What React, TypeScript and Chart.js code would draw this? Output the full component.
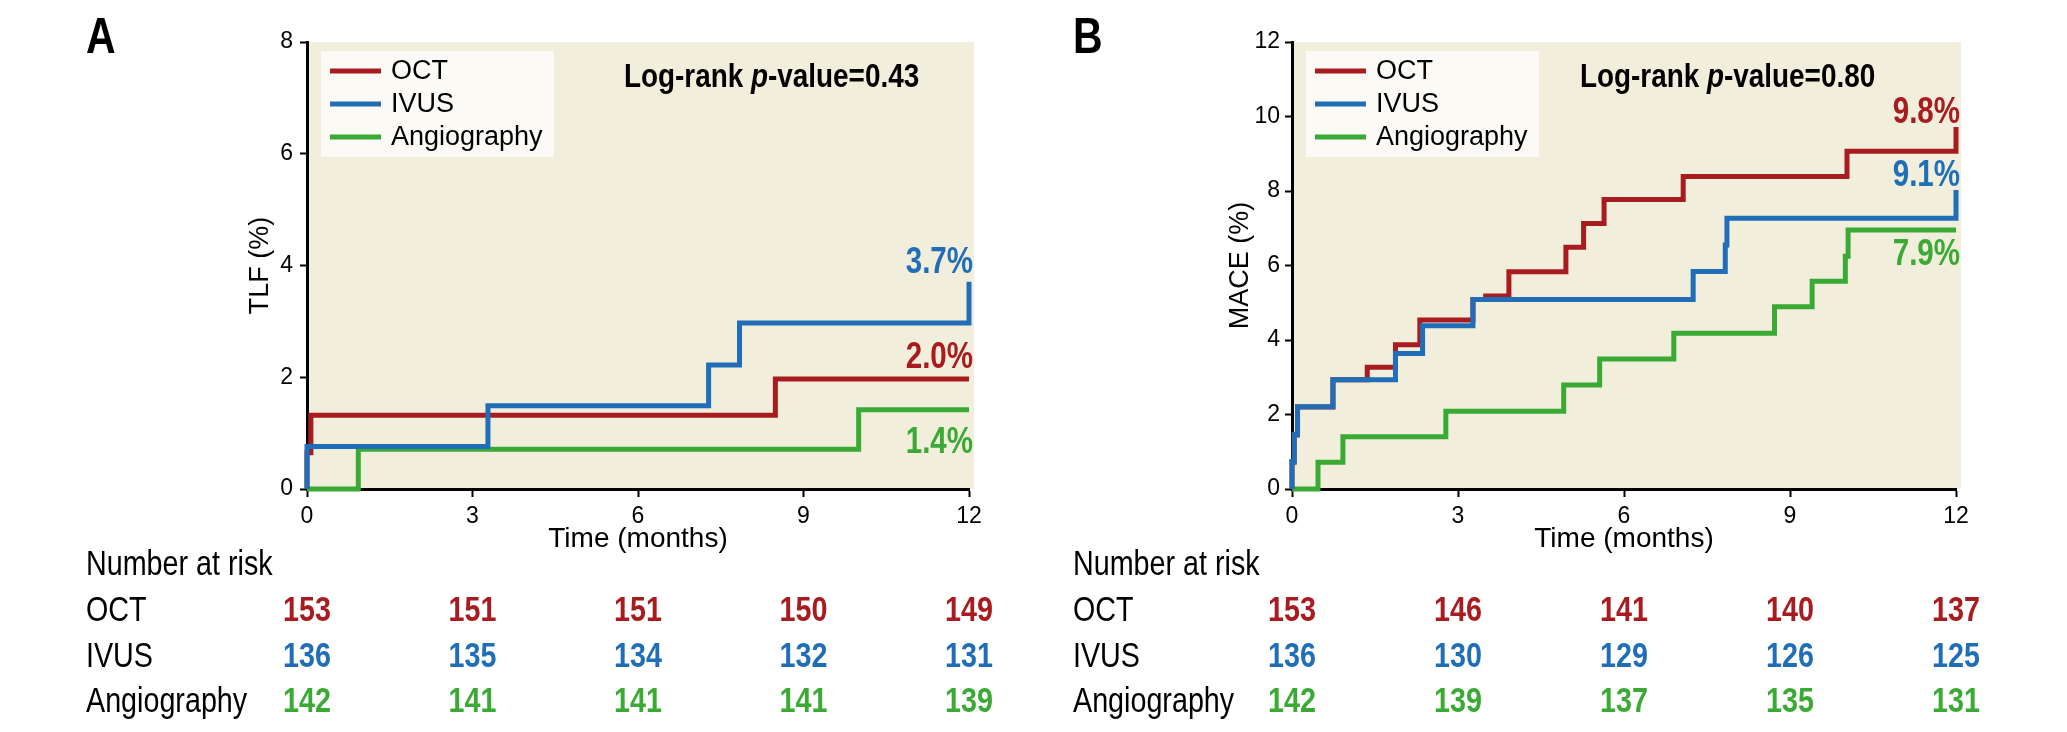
import React, { useEffect, useRef } from 'react';
import { Chart, registerables } from 'chart.js';

Chart.register(...registerables);

const RED = '#A81C20';
const BLUE = '#1F6EB7';
const GREEN = '#3AAA35';
const PLOT_BG = '#F2EEDC';
const LEGEND_BG = '#FBFAF5';
const REG = '"Liberation Sans", Arial, sans-serif';
const NARROW = 0.82; // horizontal squeeze to mimic a condensed face

const seriesNames = ['OCT', 'IVUS', 'Angiography'];
const seriesColors = [RED, BLUE, GREEN];
const timeTicks = [0, 3, 6, 9, 12];
const riskTitle = 'Number at risk';
const xTitle = 'Time (months)';

// ---- Panel A: TLF ----
const tlfOctTime = [0, 0, 0.07, 8.49, 12];
const tlfOctValue = [0, 0.65, 1.32, 1.97, 1.97];
const tlfIvusTime = [0, 0, 3.28, 7.28, 7.84, 12];
const tlfIvusValue = [0, 0.76, 1.49, 2.22, 2.97, 3.71];
const tlfAngioTime = [0, 0.93, 10.0, 12];
const tlfAngioValue = [0, 0.71, 1.42, 1.42];
const tlfEndLabels = ['2.0%', '3.7%', '1.4%'];
const tlfPValue = '0.43';
const tlfRiskOct = [153, 151, 151, 150, 149];
const tlfRiskIvus = [136, 135, 134, 132, 131];
const tlfRiskAngio = [142, 141, 141, 141, 139];

// ---- Panel B: MACE ----
const maceOctTime = [0, 0, 0.04, 0.1, 0.74, 1.36, 1.87, 2.31, 3.27, 3.5, 3.92, 4.95, 5.27, 5.64, 7.07, 10.03, 12];
const maceOctValue = [0, 0.72, 1.45, 2.2, 2.93, 3.27, 3.87, 4.54, 5.09, 5.18, 5.83, 6.49, 7.13, 7.77, 8.39, 9.07, 9.72];
const maceIvusTime = [0, 0, 0.04, 0.1, 0.74, 1.87, 2.36, 3.27, 7.25, 7.83, 7.86, 12];
const maceIvusValue = [0, 0.74, 1.47, 2.21, 2.93, 3.64, 4.38, 5.09, 5.84, 6.55, 7.27, 8.03];
const maceAngioTime = [0, 0.47, 0.92, 2.78, 4.91, 5.56, 6.9, 8.72, 9.4, 10.0, 10.05, 12];
const maceAngioValue = [0, 0.72, 1.4, 2.09, 2.79, 3.49, 4.18, 4.89, 5.58, 6.25, 6.95, 6.95];
const maceEndLabels = ['9.8%', '9.1%', '7.9%'];
const macePValue = '0.80';
const maceRiskOct = [153, 146, 141, 140, 137];
const maceRiskIvus = [136, 130, 129, 126, 125];
const maceRiskAngio = [142, 139, 137, 135, 131];

type Panel = {
  letter: string;
  yTitle: string;
  yMax: number;
  series: number[][][];
  endLabels: string[];
  pValue: string;
  risk: number[][];
  canvasWidth: number;
  plotLeft: number;
  plotRight: number;
  yTitlePad: number;
  yTickPad: number;
  textLeft: number;
  logRankX: number;
  labelDy: number[];
};

const panels: Panel[] = [
  {
    letter: 'A',
    yTitle: 'TLF (%)',
    yMax: 8,
    series: [
      [tlfOctTime, tlfOctValue],
      [tlfIvusTime, tlfIvusValue],
      [tlfAngioTime, tlfAngioValue],
    ],
    endLabels: tlfEndLabels,
    pValue: tlfPValue,
    risk: [tlfRiskOct, tlfRiskIvus, tlfRiskAngio],
    canvasWidth: 1030,
    plotLeft: 307,
    plotRight: 969,
    yTitlePad: 244,
    yTickPad: 7,
    textLeft: 86,
    logRankX: 317,
    labelDy: [-11, -9, 43],
  },
  {
    letter: 'B',
    yTitle: 'MACE (%)',
    yMax: 12,
    series: [
      [maceOctTime, maceOctValue],
      [maceIvusTime, maceIvusValue],
      [maceAngioTime, maceAngioValue],
    ],
    endLabels: maceEndLabels,
    pValue: macePValue,
    risk: [maceRiskOct, maceRiskIvus, maceRiskAngio],
    canvasWidth: 1037,
    plotLeft: 262,
    plotRight: 926,
    yTitlePad: 194,
    yTickPad: 5,
    textLeft: 43,
    logRankX: 288,
    labelDy: [-4, -4, 35],
  },
];

const CANVAS_H = 732;
const PLOT_TOP = 42;
const PLOT_BOTTOM = 489;
const riskBaselines = [575, 621, 667, 712];
const legendRows = [29, 62, 95];

// draw text squeezed horizontally; returns drawn width
function condText(ctx: CanvasRenderingContext2D, text: string, x: number, y: number, font: string, align: 'left' | 'center' | 'right') {
  ctx.save();
  ctx.font = font;
  ctx.textAlign = 'left';
  ctx.textBaseline = 'alphabetic';
  const w = ctx.measureText(text).width * NARROW;
  const left = align === 'left' ? x : align === 'center' ? x - w / 2 : x - w;
  ctx.translate(left, y);
  ctx.scale(NARROW, 1);
  ctx.fillText(text, 0, 0);
  ctx.restore();
  return w;
}

function makePlugin(p: Panel) {
  return {
    id: 'km' + p.letter,
    beforeDraw(chart: any) {
      const { ctx, chartArea: a } = chart;
      ctx.save();
      ctx.fillStyle = '#ffffff';
      ctx.fillRect(0, 0, chart.width, chart.height);
      ctx.fillStyle = PLOT_BG;
      ctx.fillRect(a.left, a.top, a.right - a.left + 5, a.bottom - a.top);
      ctx.restore();
    },
    beforeDatasetsDraw(chart: any) {
      const { ctx, chartArea: a } = chart;
      ctx.save();
      ctx.fillStyle = LEGEND_BG;
      ctx.fillRect(a.left + 14, a.top + 9, 233, 106);
      ctx.font = `27px ${REG}`;
      ctx.textBaseline = 'middle';
      ctx.textAlign = 'left';
      chart.data.datasets.forEach((ds: any, i: number) => {
        const y = a.top + legendRows[i];
        ctx.strokeStyle = ds.borderColor;
        ctx.lineWidth = 5;
        ctx.beginPath();
        ctx.moveTo(a.left + 23, y);
        ctx.lineTo(a.left + 74, y);
        ctx.stroke();
        ctx.fillStyle = '#000';
        ctx.fillText(ds.label, a.left + 84, y + 1);
      });
      const parts = [
        { t: 'Log-rank ', f: `bold 34px ${REG}` },
        { t: 'p', f: `italic bold 34px ${REG}` },
        { t: '-value=' + p.pValue, f: `bold 34px ${REG}` },
      ];
      let x = a.left + p.logRankX;
      ctx.fillStyle = '#000';
      parts.forEach((part) => {
        x += condText(ctx, part.t, x, 87, part.f, 'left');
      });
      ctx.restore();
    },
    afterDatasetsDraw(chart: any) {
      const { ctx } = chart;
      const xs = chart.scales.x;
      const ys = chart.scales.y;
      ctx.save();
      chart.data.datasets.forEach((ds: any, i: number) => {
        const last = ds.data[ds.data.length - 1];
        ctx.fillStyle = ds.borderColor;
        condText(ctx, p.endLabels[i], xs.getPixelForValue(last.x) + 4, ys.getPixelForValue(last.y) + p.labelDy[i], `bold 36px ${REG}`, 'right');
      });
      ctx.restore();
    },
    afterDraw(chart: any) {
      const { ctx } = chart;
      const xs = chart.scales.x;
      ctx.save();
      ctx.fillStyle = '#000';
      condText(ctx, p.letter, p.textLeft, 53, `bold 50px ${REG}`, 'left');
      condText(ctx, riskTitle, p.textLeft, riskBaselines[0], `35px ${REG}`, 'left');
      seriesNames.forEach((name, i) => {
        ctx.fillStyle = '#000';
        condText(ctx, name, p.textLeft, riskBaselines[i + 1], `35px ${REG}`, 'left');
        ctx.fillStyle = seriesColors[i];
        p.risk[i].forEach((n, k) => {
          condText(ctx, String(n), xs.getPixelForValue(timeTicks[k]), riskBaselines[i + 1], `bold 35px ${REG}`, 'center');
        });
      });
      ctx.restore();
    },
  };
}

function buildChart(canvas: HTMLCanvasElement, p: Panel) {
  const orders = [1, 0, 2];
  const datasets = p.series.map(([t, v], i) => ({
    label: seriesNames[i],
    data: t.map((x, k) => ({ x, y: v[k] })),
    borderColor: seriesColors[i],
    backgroundColor: seriesColors[i],
    borderWidth: 5,
    pointRadius: 0,
    stepped: 'before' as const,
    fill: false,
    clip: false as any,
    order: orders[i],
    borderJoinStyle: 'miter' as const,
    borderCapStyle: 'butt' as const,
  }));
  return new Chart(canvas, {
    type: 'line',
    data: { datasets },
    options: {
      animation: false,
      responsive: false,
      events: [],
      layout: { padding: { left: 0, top: PLOT_TOP, right: p.canvasWidth - p.plotRight, bottom: 0 } },
      plugins: { legend: { display: false }, tooltip: { enabled: false } },
      scales: {
        x: {
          type: 'linear',
          min: 0,
          max: 12,
          afterFit: (s: any) => {
            s.height = CANVAS_H - PLOT_BOTTOM;
          },
          ticks: { stepSize: 3, color: '#000', padding: 6, font: { family: REG, size: 23 }, maxRotation: 0 },
          grid: { display: true, drawOnChartArea: false, drawTicks: true, tickLength: 8, tickWidth: 2, tickColor: '#000', color: '#000' },
          border: { display: true, color: '#000', width: 3 },
          title: { display: true, text: xTitle, color: '#000', font: { family: REG, size: 28 }, padding: { top: 0, bottom: 176 } },
        },
        y: {
          type: 'linear',
          min: 0,
          max: p.yMax,
          afterFit: (s: any) => {
            s.width = p.plotLeft;
          },
          ticks: { stepSize: 2, color: '#000', padding: p.yTickPad, font: { family: REG, size: 23 } },
          grid: { display: true, drawOnChartArea: false, drawTicks: true, tickLength: 7, tickWidth: 2, tickColor: '#000', color: '#000' },
          border: { display: true, color: '#000', width: 3 },
          title: { display: true, text: p.yTitle, color: '#000', font: { family: REG, size: 27 }, padding: { top: p.yTitlePad, bottom: 0 } },
        },
      },
    } as any,
    plugins: [makePlugin(p) as any],
  });
}

function KMPanel({ p }: { p: Panel }) {
  const ref = useRef<HTMLCanvasElement | null>(null);
  useEffect(() => {
    if (!ref.current) return;
    const chart = buildChart(ref.current, p);
    return () => chart.destroy();
  }, [p]);
  return (
    <div style={{ width: p.canvasWidth, height: CANVAS_H, position: 'relative' }}>
      <canvas ref={ref} width={p.canvasWidth} height={CANVAS_H} style={{ width: p.canvasWidth, height: CANVAS_H, display: 'block' }} />
    </div>
  );
}

export default function App() {
  return (
    <div style={{ position: 'fixed', left: 0, top: 0, width: 2067, height: CANVAS_H, background: '#fff', display: 'flex' }}>
      {panels.map((p) => (
        <KMPanel key={p.letter} p={p} />
      ))}
    </div>
  );
}
